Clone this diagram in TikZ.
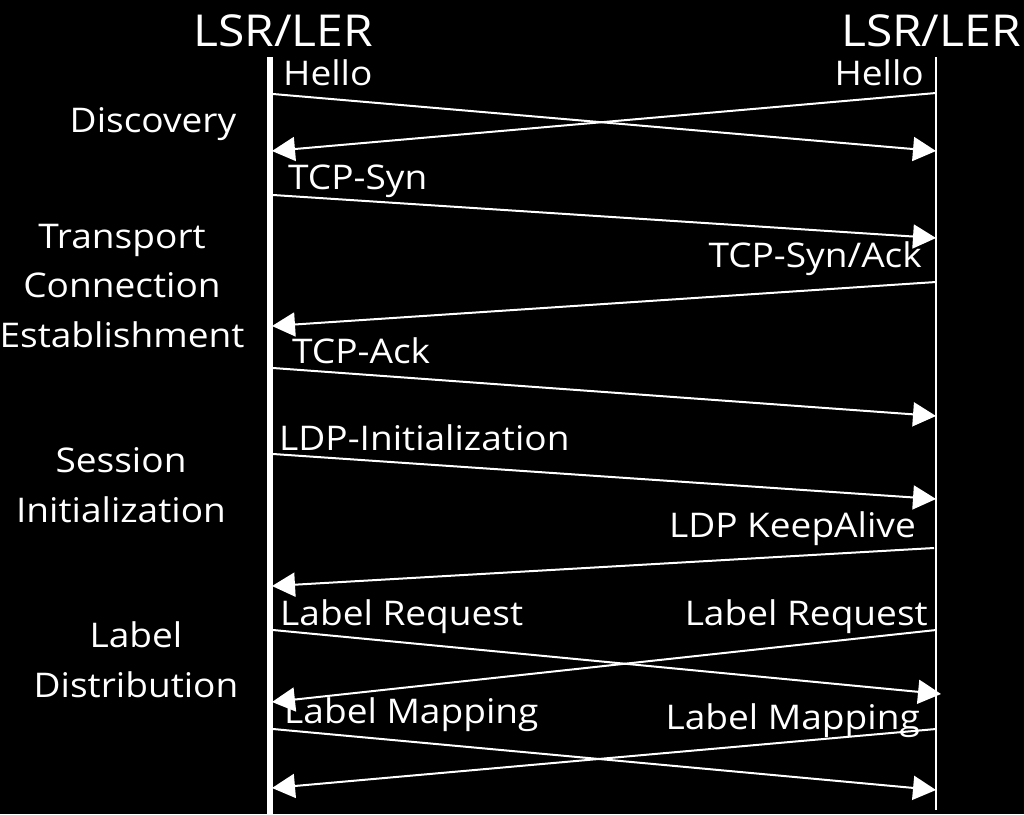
\documentclass[tikz,border=0pt]{standalone}
\usepackage{fontspec}
\setmainfont{Open Sans}[FakeStretch=1.09]
\usetikzlibrary{arrows.meta}

\tikzset{
  msg/.style={white, line width=2pt, -{Triangle[length=23pt,width=24pt]}},
  lbl/.style={white, font=\fontsize{34}{40}\selectfont, inner sep=0pt},
  phase/.style={white, font=\fontsize{34}{49.5}\selectfont, align=center, inner sep=0pt},
  head/.style={white, font=\fontsize{44}{50}\selectfont, inner sep=0pt}
}

\begin{document}
\begin{tikzpicture}[x=1pt, y=-1pt]
  % 1. Background and frame of the picture
  \fill[black] (0,0) rectangle (1024,814);
  \useasboundingbox (0,0) rectangle (1024,814);

  % 2. The two lifelines
  \coordinate (ltop) at (270,57);
  \coordinate (lbot) at (270,814);
  \coordinate (rtop) at (936,57);
  \coordinate (rbot) at (936,810);
  \draw[white, line width=6pt] (ltop) -- (lbot);
  \draw[white, line width=2pt] (rtop) -- (rbot);
  \node[head, anchor=base] (lhead) at (283,46) {LSR/LER};
  \node[head, anchor=base east] (rhead) at (1021,46) {LSR/LER};

  % 3. Points where the messages leave and reach the lifelines
  \coordinate (l1) at (273,94);   \coordinate (r1) at (936,151);
  \coordinate (r2) at (936,93);   \coordinate (l2) at (272,151);
  \coordinate (l3) at (273,195);  \coordinate (r3) at (936,238);
  \coordinate (r4) at (936,282);  \coordinate (l4) at (272,326);
  \coordinate (l5) at (273,368);  \coordinate (r5) at (936,416);
  \coordinate (l6) at (273,454);  \coordinate (r6) at (936,499);
  \coordinate (r7) at (934,548);  \coordinate (l7) at (272,586);
  \coordinate (l8) at (273,630);  \coordinate (r8) at (941,694);
  \coordinate (r9) at (936,630);  \coordinate (l9) at (272,702);
  \coordinate (l10) at (273,729); \coordinate (r10) at (936,790);
  \coordinate (r11) at (936,729); \coordinate (l11) at (272,788);

  % 4. The messages
  \draw[msg] (l1) -- (r1);
  \draw[msg] (r2) -- (l2);
  \draw[msg] (l3) -- (r3);
  \draw[msg] (r4) -- (l4);
  \draw[msg] (l5) -- (r5);
  \draw[msg] (l6) -- (r6);
  \draw[msg] (r7) -- (l7);
  \draw[msg] (l8) -- (r8);
  \draw[msg] (r9) -- (l9);
  \draw[msg] (l10) -- (r10);
  \draw[msg] (r11) -- (l11);

  % 5. Message labels
  \node[lbl, anchor=base west] (hello1) at (283,85) {Hello};
  \node[lbl, anchor=base east] (hello2) at (924,85) {Hello};
  \node[lbl, anchor=base west] (syn) at (288,189) {TCP-Syn};
  \node[lbl, anchor=base east] (synack) at (922,267) {TCP-Syn/Ack};
  \node[lbl, anchor=base west] (ack) at (292,363) {TCP-Ack};
  \node[lbl, anchor=base west] (init) at (279,450) {LDP-Initialization};
  \node[lbl, anchor=base east] (keep) at (916,537) {LDP KeepAlive};
  \node[lbl, anchor=base west] (req1) at (280,625) {Label Request};
  \node[lbl, anchor=base east] (req2) at (928,625) {Label Request};
  \node[lbl, anchor=base west] (map1) at (284,723) {Label Mapping};
  \node[lbl, anchor=base east] (map2) at (920,729) {Label Mapping};

  % 6. Phase labels on the left (base = last line)
  \node[phase, anchor=base] (disc) at (153,132) {Discovery};
  \node[phase, anchor=base] (trans) at (122,347) {Transport\\Connection\\Establishment};
  \node[phase, anchor=base] (sess) at (121,522) {Session\\Initialization};
  \node[phase, anchor=base] (dist) at (136,697) {Label\\Distribution};
\end{tikzpicture}
\end{document}
